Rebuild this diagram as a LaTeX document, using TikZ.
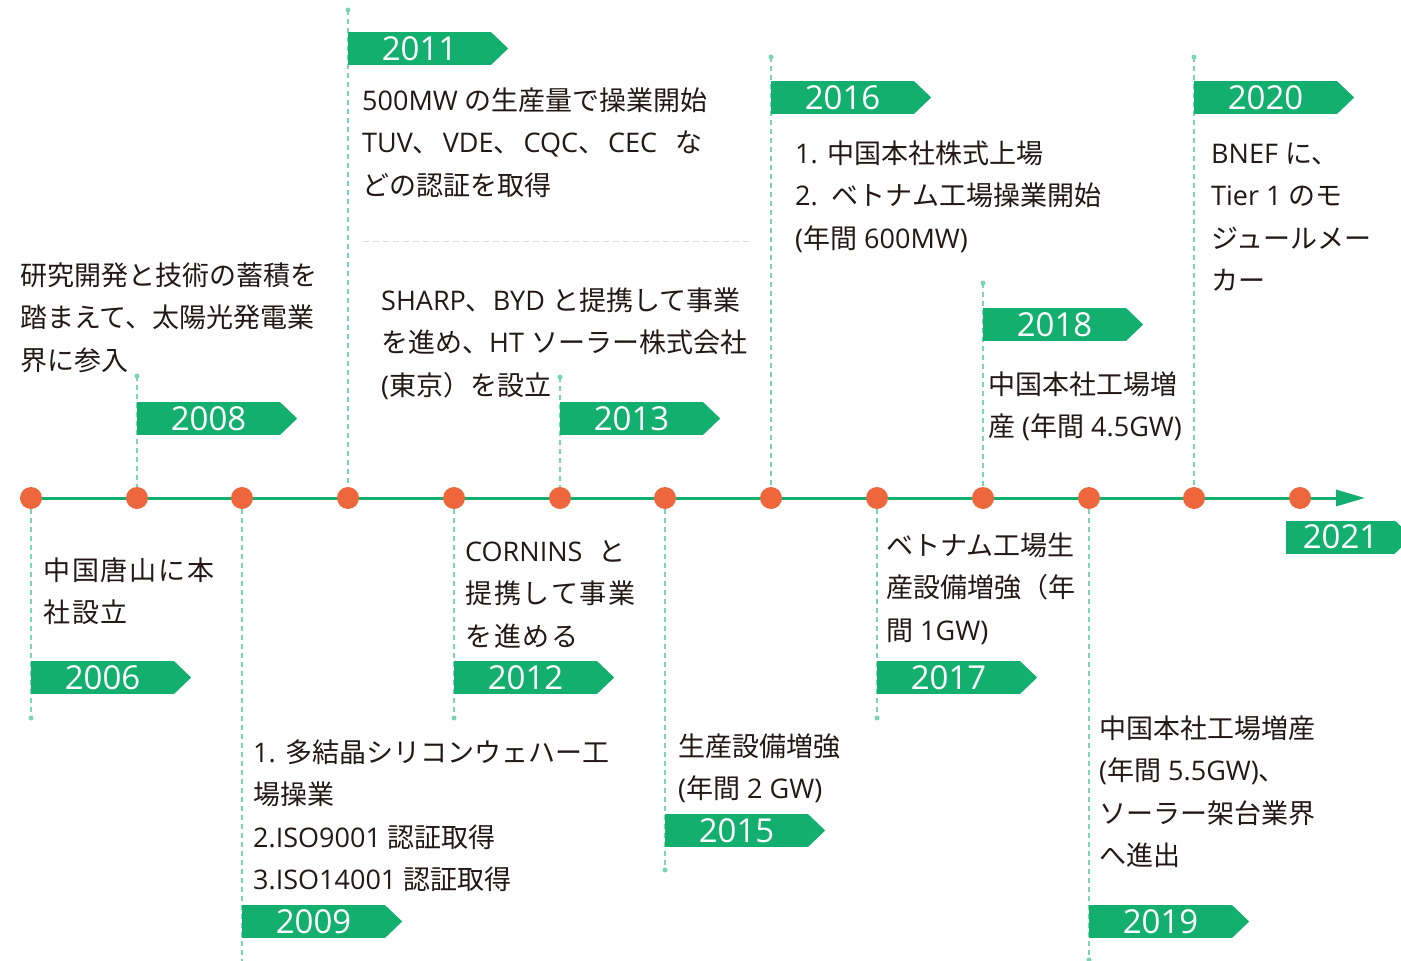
\documentclass[tikz,border=0pt]{standalone}
\usepackage{fontspec}
\setmainfont{Noto Sans CJK JP}
\newfontfamily\os{Open Sans}
\usetikzlibrary{arrows.meta}
\definecolor{tg}{HTML}{12AF6E}
\definecolor{dotc}{HTML}{EE663C}
\definecolor{vline}{HTML}{78D6B2}
\definecolor{txt}{HTML}{231815}
\definecolor{sep}{HTML}{DCDCDC}
\newcommand\lt[1]{{\os #1}}
\begin{document}
\begin{tikzpicture}[x=1pt,y=-1pt,
  evt/.style={anchor=base west, align=left, inner sep=0pt, text=txt, font=\fontsize{27}{42.5}\selectfont},
  spaced/.style={font=\fontsize{27}{42.5}\selectfont\addfontfeature{LetterSpace=7}},
  tag/.style={fill=tg, text=white, minimum width=143pt, minimum height=33pt, inner sep=0pt, font=\os\fontsize{33}{33}\selectfont},
  dot/.style={circle, fill=dotc, minimum size=22pt, inner sep=0pt},
  tipdot/.style={circle, fill=vline, minimum size=5pt, inner sep=0pt},
  vl/.style={draw=vline, line width=1.8pt, dash pattern=on 5pt off 4pt},
]
\useasboundingbox (0,0) rectangle (1401,961);

% separator
\coordinate (gl) at (363,241); \coordinate (gr) at (752,241);
\draw[sep, line width=1pt, dash pattern=on 6pt off 4pt] (gl) -- (gr);

% main axis
\coordinate (ls) at (20,498); \coordinate (le) at (1365,498);
\draw[tg, line width=3pt, -{Triangle[length=29pt,width=16pt]}] (ls) -- (le);

% dots
\foreach \y/\x in {2006/31,2008/137,2009/242,2011/348,2012/454,2013/560,2015/665,2016/771,2017/877,2018/983,2019/1089,2020/1194,2021/1300}
  \node[dot] (d\y) at (\x,498) {};

% end points of guides
\node[tipdot] (b2006) at (31,718) {};
\node[tipdot] (b2008) at (137,376) {};
\coordinate (b2009) at (242,961);
\node[tipdot] (b2011) at (348,10) {};
\node[tipdot] (b2012) at (454,718) {};
\node[tipdot] (b2013) at (560,377) {};
\node[tipdot] (b2015) at (665,870) {};
\node[tipdot] (b2016) at (771,57) {};
\node[tipdot] (b2017) at (877,718) {};
\node[tipdot] (b2018) at (983,283) {};
\node[tipdot] (b2019) at (1089,960) {};
\node[tipdot] (b2020) at (1194,57) {};

% guides below
\foreach \y in {2006,2012,2015,2017,2019}
  \draw[vl] (d\y.south) -- (b\y.center);
\draw[vl] (d2009.south) -- (b2009);
% guides above
\foreach \y in {2008,2011,2013,2016,2018,2020}
  \draw[vl] (b\y.center) -- (d\y.north);

% year tags
\node[tag] (y2006) at (102.5,677.5) {2006};
\node[tag] (y2008) at (208.5,418.5) {2008};
\node[tag] (y2009) at (313.5,921.5) {2009};
\node[tag] (y2011) at (419.5,48.5) {2011};
\node[tag] (y2012) at (525.5,677.5) {2012};
\node[tag] (y2013) at (631.5,418.5) {2013};
\node[tag] (y2015) at (736.5,830.5) {2015};
\node[tag] (y2016) at (842.5,97.5) {2016};
\node[tag] (y2017) at (948.5,677.5) {2017};
\node[tag] (y2018) at (1054.5,324.5) {2018};
\node[tag] (y2019) at (1160.5,921.5) {2019};
\node[tag] (y2020) at (1265.5,97.5) {2020};
\node[tag, minimum width=109pt] (y2021) at (1340.5,537) {2021};
\foreach \n in {y2006,y2008,y2009,y2011,y2012,y2013,y2015,y2016,y2017,y2018,y2019,y2020,y2021}
  \fill[tg] ([xshift=-0.5pt]\n.north east) -- ([xshift=17pt]\n.east) -- ([xshift=-0.5pt]\n.south east) -- cycle;

% event texts (anchor = baseline of last line)
\node[evt, spaced] (e2006) at (43,622.5) {中国唐山に本\\社設立};
\node[evt] (e2008) at (20,370) {研究開発と技術の蓄積を\\踏まえて、太陽光発電業\\界に参入};
\node[evt] (e2009) at (253,889.5) {\lt{1. }多結晶シリコンウェハー工\\場操業\\\lt{2.ISO9001 }認証取得\\\lt{3.ISO14001 }認証取得};
\node[evt] (e2011) at (362,195) {\lt{500MW }の生産量で操業開始\\\lt{TUV}、\hspace{3pt}\lt{VDE}、\hspace{3pt}\lt{CQC}、\hspace{3pt}\lt{CEC}\hspace{18pt}な\\どの認証を取得};
\node[evt, spaced] (e2012) at (465,646) {\lt{CORNINS}\hspace{16pt}と\\提携して事業\\を進める};
\node[evt] (e2013) at (381,395) {\lt{SHARP}、\lt{BYD }と提携して事業\\を進め、\lt{HT }ソーラー株式会社\\\lt{(}東京）を設立};
\node[evt] (e2015) at (678,798.5) {生産設備増強\\\lt{(}年間\lt{ 2 GW)}};
\node[evt] (e2016) at (795,248) {\lt{1. }中国本社株式上場\\\lt{2.\ \ }ベトナム工場操業開始\\\lt{(}年間\lt{ 600MW)}};
\node[evt] (e2017) at (886,640) {ベトナム工場生\\産設備増強（年\\間\lt{ 1GW)}};
\node[evt] (e2018) at (988,436.5) {中国本社工場増\\産\lt{ (}年間\lt{ 4.5GW)}};
\node[evt] (e2019) at (1099,865.5) {中国本社工場増産\\\lt{(}年間\lt{ 5.5GW)}、\\ソーラー架台業界\\へ進出};
\node[evt] (e2020) at (1211,290.5) {\lt{BNEF }に、\\\lt{Tier 1 }のモ\\ジュールメー\\カー};
\end{tikzpicture}
\end{document}
